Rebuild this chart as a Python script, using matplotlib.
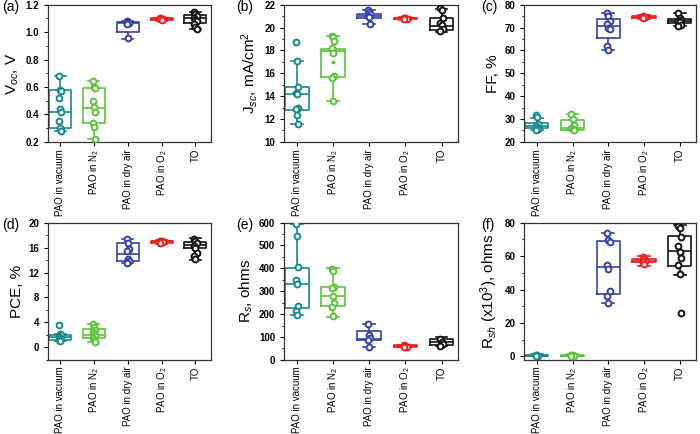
import matplotlib
matplotlib.use('Agg')
import matplotlib.pyplot as plt
from matplotlib.ticker import MultipleLocator, AutoMinorLocator

plt.rcParams['font.family'] = ['Liberation Sans', 'DejaVu Sans']
plt.rcParams['mathtext.fontset'] = 'custom'
plt.rcParams['mathtext.rm'] = 'Liberation Sans'
plt.rcParams['mathtext.it'] = 'Liberation Sans:italic'

groups = ['PAO in vacuum', 'PAO in N$_2$', 'PAO in dry air', 'PAO in O$_2$', 'TO']
colors = ['#17898a', '#5cc23a', '#3242a8', '#ee1c1c', '#111111']

# (a) Voc
voc_pts = [[0.68, 0.58, 0.57, 0.52, 0.44, 0.42, 0.35, 0.30, 0.28],
           [0.645, 0.60, 0.59, 0.50, 0.455, 0.42, 0.34, 0.31, 0.22],
           [1.08, 1.075, 1.07, 1.06, 0.955],
           [1.10, 1.097, 1.095, 1.093, 1.09],
           [1.145, 1.13, 1.12, 1.10, 1.09, 1.08, 1.06, 1.04, 1.02]]
voc_q1 = [0.30, 0.34, 1.00, 1.09, 1.07]
voc_med = [0.42, 0.45, 1.07, 1.095, 1.10]
voc_q3 = [0.575, 0.59, 1.075, 1.10, 1.127]
voc_lo = [0.28, 0.22, 0.95, 1.085, 1.02]
voc_hi = [0.68, 0.645, 1.08, 1.105, 1.147]

# (b) Jsc
jsc_pts = [[18.75, 17.05, 14.8, 14.25, 14.2, 13.0, 12.85, 12.35, 11.6],
           [19.3, 19.15, 18.85, 18.2, 17.8, 15.8, 15.55, 13.55],
           [21.55, 21.4, 21.2, 21.0, 20.9, 20.3],
           [20.85, 20.8, 20.78, 20.75],
           [21.7, 21.5, 20.8, 20.4, 20.2, 19.85, 19.7]]
jsc_q1 = [12.8, 15.7, 20.85, 20.75, 19.8]
jsc_med = [14.15, 17.95, 21.0, 20.8, 20.15]
jsc_q3 = [14.8, 18.15, 21.2, 20.85, 20.8]
jsc_lo = [11.6, 13.55, 20.3, 20.7, 19.6]
jsc_hi = [17.05, 19.3, 21.55, 20.9, 21.6]

# (c) FF
ff_pts = [[31.8, 30.8, 27.9, 27.0, 26.2, 25.6, 25.2],
          [32.3, 30.0, 27.2, 26.2, 25.5, 25.2],
          [76.4, 75.2, 73.1, 71.7, 69.8, 69.3, 62.0, 60.3],
          [75.2, 74.8, 74.5, 74.2],
          [76.2, 74.0, 73.2, 72.8, 72.3, 71.0, 70.6]]
ff_q1 = [26.0, 25.4, 65.3, 74.3, 72.0]
ff_med = [27.0, 26.2, 70.8, 74.7, 72.8]
ff_q3 = [28.2, 29.5, 73.9, 75.0, 73.7]
ff_lo = [25.0, 25.0, 60.0, 73.8, 70.8]
ff_hi = [30.5, 32.3, 76.6, 75.4, 76.4]

# (d) PCE
pce_pts = [[3.6, 2.1, 2.0, 1.7, 1.5, 1.3, 1.1, 1.0],
           [3.7, 3.3, 2.8, 2.4, 2.1, 1.8, 1.5, 1.2, 0.8],
           [17.3, 16.8, 15.7, 15.5, 14.1, 13.9, 13.6],
           [17.1, 17.0, 16.9, 16.8],
           [17.4, 17.0, 16.8, 16.3, 16.0, 15.2, 14.6, 14.1]]
pce_q1 = [1.2, 1.5, 13.9, 16.8, 16.0]
pce_med = [1.6, 2.0, 14.9, 17.0, 16.4]
pce_q3 = [2.0, 2.9, 16.8, 17.1, 16.9]
pce_lo = [0.96, 0.8, 13.5, 16.6, 14.0]
pce_hi = [2.2, 3.8, 17.4, 17.2, 17.6]

# (e) Rs
rs_pts = [[593, 543, 405, 347, 332, 235, 212, 195],
          [395, 388, 319, 316, 278, 249, 231, 193],
          [157, 107, 95, 86, 56],
          [63, 60, 58, 57],
          [92, 80, 70, 62]]
rs_q1 = [227, 234, 86, 57, 64]
rs_med = [332, 281, 92, 60, 78]
rs_q3 = [402, 318, 127, 63, 91]
rs_lo = [195, 189, 56, 55, 59]
rs_hi = [593, 400, 157, 65, 100]

# (f) Rsh (x10^3)
rsh_pts = [[1.0, 0.6, 0.4, 0.3],
           [0.9, 0.6, 0.4, 0.3],
           [74, 69.7, 68.5, 54.8, 52.2, 38.9, 36.3, 31.8],
           [59.5, 58, 57, 56.5, 55.5],
           [78, 76.5, 71.5, 66, 62.5, 59, 54.5, 49, 26]]
rsh_q1 = [0.2, 0.2, 37.3, 56.2, 54.2]
rsh_med = [0.5, 0.5, 53.6, 57.2, 63.1]
rsh_q3 = [0.9, 0.9, 69.1, 58.2, 72.1]
rsh_lo = [0.1, 0.1, 31.8, 54.2, 48.8]
rsh_hi = [1.2, 1.2, 74.0, 60.2, 78.6]

panels = [
    ('(a)', 'V$_{oc}$, V', voc_pts, voc_q1, voc_med, voc_q3, voc_lo, voc_hi, (0.2, 1.2), 0.2),
    ('(b)', 'J$_{sc}$, mA/cm$^2$', jsc_pts, jsc_q1, jsc_med, jsc_q3, jsc_lo, jsc_hi, (10, 22), 2),
    ('(c)', 'FF, %', ff_pts, ff_q1, ff_med, ff_q3, ff_lo, ff_hi, (20, 80), 10),
    ('(d)', 'PCE, %', pce_pts, pce_q1, pce_med, pce_q3, pce_lo, pce_hi, (-2, 20), 4),
    ('(e)', 'R$_s$, ohms', rs_pts, rs_q1, rs_med, rs_q3, rs_lo, rs_hi, (0, 600), 100),
    ('(f)', 'R$_{sh}$ (x10$^3$), ohms', rsh_pts, rsh_q1, rsh_med, rsh_q3, rsh_lo, rsh_hi, (-2, 80), 20),
]

fig = plt.figure(figsize=(7, 4.34), dpi=100)
lefts = [0.069, 0.406, 0.749]
widths = [0.232, 0.248, 0.245]
bottoms = [0.673, 0.171]
height = 0.316
label_x = [0.003, 0.338, 0.688]

for n, (tag, ylab, pts, q1, med, q3, lo, hi, ylim, step) in enumerate(panels):
    r, c = divmod(n, 3)
    ax = fig.add_axes([lefts[c], bottoms[r], widths[c], height])
    for i in range(5):
        st = [{'q1': q1[i], 'med': med[i], 'q3': q3[i], 'whislo': lo[i], 'whishi': hi[i], 'fliers': []}]
        lp = dict(color=colors[i], linewidth=1.2)
        ax.bxp(st, positions=[i], widths=0.65, showfliers=False,
               boxprops=lp, whiskerprops=lp, capprops=lp, medianprops=lp)
        for k, v in enumerate(pts[i]):
            ax.plot(i + 0.035 * ((k % 3) - 1), v, 'o', ms=4.2, mfc='white',
                    mec=colors[i], mew=1.4, zorder=3)
    if tag == '(b)':
        ax.plot(1, 16.95, 'o', ms=1.8, color=colors[1], zorder=3)
    ax.set_xlim(-0.35, 4.45)
    ax.set_ylim(*ylim)
    ax.yaxis.set_major_locator(MultipleLocator(step))
    ax.yaxis.set_minor_locator(AutoMinorLocator(2))
    ax.set_xticks(range(5))
    ax.set_xticklabels(groups, rotation=90, fontsize=7)
    ax.tick_params(axis='y', labelsize=7, length=3, width=0.8)
    ax.tick_params(axis='y', which='minor', length=1.8, width=0.6)
    ax.tick_params(axis='x', length=3, width=0.8, pad=2)
    for t in ax.get_yticklabels():
        t.set_fontweight('bold')
    for s in ax.spines.values():
        s.set_linewidth(0.9)
        s.set_color('#333333')
    ax.set_ylabel(ylab, fontsize=11, labelpad=3)
    fig.text(label_x[c], bottoms[r] + height - 0.005, tag, fontsize=10, va='center', ha='left')

fig.savefig('out.png', dpi=100)
